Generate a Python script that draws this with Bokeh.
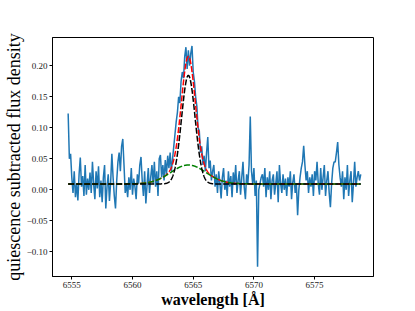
import numpy as np
from bokeh.plotting import figure
from bokeh.models import Range1d, FixedTicker, CustomJSTickFormatter
from bokeh.embed import file_html
from bokeh.resources import INLINE

# ---- data ----
wl_start, wl_end = 6554.7, 6578.8
flux = [
    0.123, 0.050, 0.058, 0.020, -0.005, 0.030, -0.012, 0.010, -0.017, 0.025,
    0.052, 0.005, 0.022, -0.010, 0.040, -0.008, 0.018, 0.000, 0.028, -0.005,
    0.045, 0.010, -0.015, 0.030, 0.002, 0.038, -0.012, 0.015, -0.020, 0.020,
    0.040, -0.030, 0.005, 0.025, -0.018, 0.012, 0.058, 0.020, -0.010, -0.030,
    0.015, 0.045, 0.060, 0.030, 0.070, 0.082, 0.040, -0.005, 0.010, -0.012,
    0.020, 0.000, 0.035, -0.008, 0.018, 0.005, -0.015, 0.025, 0.010, 0.040,
    0.053, 0.015, -0.010, 0.030, -0.022, 0.008, 0.035, -0.005, 0.020, 0.040,
    0.010, 0.045, 0.005, 0.030, -0.010, 0.050, 0.056, 0.020, 0.040, 0.015,
    0.048, 0.025, 0.055, 0.035, 0.060, 0.030, 0.050, 0.070,
    0.090, 0.110, 0.125, 0.150, 0.140, 0.175, 0.190, 0.180, 0.215, 0.230,
    0.195, 0.225, 0.200, 0.220, 0.232, 0.190, 0.175, 0.150, 0.135, 0.100,
    0.095, 0.060, 0.070, 0.040, 0.055, 0.030, 0.060, 0.085, 0.035, 0.047,
    0.015, 0.030,
    0.040, 0.005, 0.025, -0.005, 0.030, 0.010, -0.014, 0.020, 0.035, 0.000,
    0.015, -0.010, 0.030, 0.005, 0.022, -0.012, 0.028, 0.008, 0.040, -0.005,
    0.015, 0.030, -0.008, 0.020, 0.045, 0.005, -0.015, 0.025, 0.010, 0.040,
    0.118, 0.030, 0.010, 0.035, -0.010, 0.015, -0.124, 0.000, 0.010, 0.020,
    0.025, 0.005, 0.035, -0.012, 0.020, 0.000, 0.030, -0.015, 0.015, 0.025,
    -0.008, 0.010, 0.030, -0.020, 0.040, 0.010, -0.005, 0.025, 0.000, 0.018,
    -0.010, 0.020, 0.005, 0.030, -0.015, 0.012, 0.025, -0.005, 0.010, -0.041,
    0.000, 0.020, 0.035, 0.045, 0.071, 0.040, 0.015, 0.030, -0.005, 0.020,
    0.005, 0.025, -0.010, 0.030, 0.015, 0.045, 0.010, -0.008, 0.035, 0.000,
    0.020, 0.040, -0.010, 0.015, 0.030, -0.005, -0.028, 0.010, 0.035, 0.045,
    0.045, 0.060, 0.077, 0.040, 0.020, 0.005, 0.030, -0.015, 0.020, 0.000,
    0.040, -0.010, 0.015, 0.030, -0.020, 0.010, 0.045, 0.005, 0.020, 0.030,
    0.015, 0.025,
]
wavelength = np.linspace(wl_start, wl_end, len(flux))

# fitted model parameters
continuum = 0.0095
narrow_amp, narrow_center, narrow_sigma = 0.175, 6564.6, 0.56
broad_amp, broad_center, broad_sigma = 0.0305, 6564.6, 1.45

x_ticks = [6555, 6560, 6565, 6570, 6575]
y_ticks = [-0.10, -0.05, 0.00, 0.05, 0.10, 0.15, 0.20]

# ---- model curves ----
wl_model = np.linspace(wl_start, wl_end, 1200)
narrow = continuum + narrow_amp * np.exp(-0.5 * ((wl_model - narrow_center) / narrow_sigma) ** 2)
broad = continuum + broad_amp * np.exp(-0.5 * ((wl_model - broad_center) / broad_sigma) ** 2)
total = narrow + broad - continuum

SERIF = "Liberation Serif"

p = figure(width=415, height=311, output_backend="svg", toolbar_location=None,
           x_range=Range1d(6553.41, 6579.85), y_range=Range1d(-0.1398, 0.2456),
           min_border_left=52, min_border_right=42, min_border_top=37, min_border_bottom=35)

p.line(wavelength, flux, line_color="#1f77b4", line_width=1.5)
p.line(wl_model, total, line_color="red", line_width=1.5, line_dash="6 2")
p.line(wl_model, broad, line_color="green", line_width=1.5, line_dash="6 2")
p.line(wl_model, narrow, line_color="black", line_width=1.5, line_dash="6 2")

p.xgrid.visible = False
p.ygrid.visible = False
p.outline_line_color = "black"
p.outline_line_width = 1
p.background_fill_color = "white"
p.border_fill_color = "white"

p.xaxis.ticker = FixedTicker(ticks=x_ticks)
p.yaxis.ticker = FixedTicker(ticks=y_ticks)
p.yaxis.formatter = CustomJSTickFormatter(
    code="return (tick < -1e-9 ? '\u2212' : '') + Math.abs(tick).toFixed(2);")
p.xaxis.formatter = CustomJSTickFormatter(code="return tick.toFixed(0);")

for ax in (p.xaxis, p.yaxis):
    ax.major_tick_in = 0
    ax.major_tick_out = 3
    ax.minor_tick_line_color = None
    ax.axis_line_color = "black"
    ax.major_tick_line_color = "black"
    ax.major_label_text_font = SERIF
    ax.major_label_text_font_size = "9px"
    ax.major_label_text_color = "#222222"
    ax.axis_label_text_font = SERIF
    ax.axis_label_text_color = "black"

p.xaxis.major_label_standoff = 2
p.yaxis.major_label_standoff = 2
p.xaxis.axis_label = "wavelength [Å]"
p.xaxis.axis_label_text_font_style = "bold"
p.xaxis.axis_label_text_font_size = "16px"
p.xaxis.axis_label_standoff = 0
p.yaxis.axis_label = "quiescence subtracted flux density"
p.yaxis.axis_label_text_font_style = "normal"
p.yaxis.axis_label_text_font_size = "18px"
p.yaxis.axis_label_standoff = 0

open("out.html", "w").write(file_html(p, INLINE))
